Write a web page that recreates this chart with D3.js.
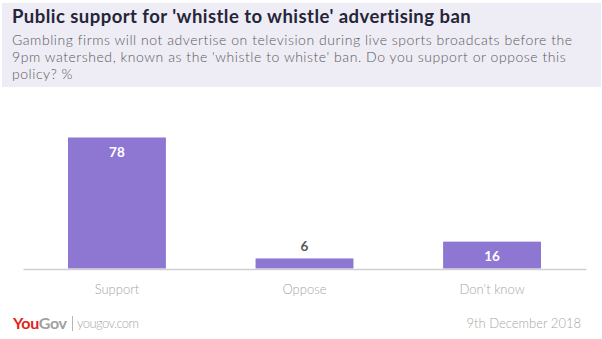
<!DOCTYPE html>
<html>
<head>
<meta charset="utf-8">
<script src="https://cdn.jsdelivr.net/npm/d3@7"></script>
<style>
  html, body { margin: 0; padding: 0; background: #ffffff; }
  svg { display: block; font-family: "Lato", "Open Sans", sans-serif; }
</style>
</head>
<body>
<svg id="chart" width="602" height="339"></svg>
<script>
// Survey answers and their shares (%)
const categories = ["Support", "Oppose", "Don't know"];
const values = [78, 6, 16];

const titleText = "Public support for 'whistle to whistle' advertising ban";
const subtitleLines = [
  "Gambling firms will not advertise on television during live sports broadcats before the",
  "9pm watershed, known as the 'whistle to whiste' ban. Do you support or oppose this",
  "policy? %"
];
const sourceText = "yougov.com";
const dateText = "9th December 2018";

const svg = d3.select("#chart");

// Header panel
svg.append("rect")
  .attr("x", 2).attr("y", 3)
  .attr("width", 599).attr("height", 84)
  .attr("fill", "#eeecf4");

// Stretch letter spacing so a line fills the given width
function fitWidth(sel, target) {
  const node = sel.node();
  const len = node.getComputedTextLength();
  const n = sel.text().length;
  const ls = (target - len) / Math.max(1, n - 1);
  sel.attr("letter-spacing", ls);
  return ls;
}

const title = svg.append("text")
  .attr("x", 12).attr("y", 23)
  .attr("font-size", 18.5).attr("font-weight", 700)
  .attr("fill", "#25253a")
  .text(titleText);
fitWidth(title, 459);

const subs = svg.append("g");
let spacing = 0;
subtitleLines.forEach((line, i) => {
  const t = subs.append("text")
    .attr("x", 12).attr("y", 45 + i * 17)
    .attr("font-size", 14)
    .attr("font-weight", 300)
    .attr("fill", "#5a5a5a")
    .text(line);
  if (i === 0) spacing = fitWidth(t, 560);
  else t.attr("letter-spacing", spacing);
});

// Bars
const x = d3.scaleBand()
  .domain(categories)
  .range([23, 586])
  .paddingInner(0.478)
  .paddingOuter(0.24);

const y = d3.scaleLinear()
  .domain([0, 78])
  .range([268.5, 137.5]);

svg.append("g").selectAll("rect")
  .data(categories)
  .join("rect")
  .attr("x", d => x(d))
  .attr("y", (d, i) => y(values[i]))
  .attr("width", x.bandwidth())
  .attr("height", (d, i) => y(0) - y(values[i]))
  .attr("fill", "#8e77d3");

// Baseline axis
const axis = svg.append("g")
  .attr("transform", `translate(0,${y(0) + 0.5})`)
  .call(d3.axisBottom(x).tickSize(0).tickPadding(16));
axis.select(".domain").attr("stroke", "#d0d0d0").attr("stroke-width", 1.6);
axis.selectAll(".tick text")
  .attr("font-family", "Lato, 'Open Sans', sans-serif")
  .attr("font-size", 13)
  .attr("font-weight", 300)
  .attr("fill", "#a6a6a6");

// Value labels: inside tall bars, above short ones
svg.append("g").selectAll("text")
  .data(categories)
  .join("text")
  .attr("x", d => x(d) + x.bandwidth() / 2)
  .attr("y", (d, i) => {
    const top = y(values[i]);
    const h = y(0) - top;
    return h > 20 ? top + 15 : top - 12.5;
  })
  .attr("dy", "0.35em")
  .attr("text-anchor", "middle")
  .attr("font-size", 13.5)
  .attr("font-weight", 700)
  .attr("fill", (d, i) => (y(0) - y(values[i]) > 20 ? "#ffffff" : "#555555"))
  .text((d, i) => values[i]);

// Footer
const logo = svg.append("text")
  .attr("x", 13).attr("y", 329)
  .attr("font-size", 16).attr("font-weight", 700)
  .attr("letter-spacing", -0.3);
logo.append("tspan").attr("fill", "#e2231a").text("You");
logo.append("tspan").attr("fill", "#a0a0a0").text("Gov");

svg.append("line")
  .attr("x1", 72.5).attr("x2", 72.5)
  .attr("y1", 316).attr("y2", 331)
  .attr("stroke", "#b5b5b5").attr("stroke-width", 1);

const src = svg.append("text")
  .attr("x", 77).attr("y", 328)
  .attr("font-size", 13)
  .attr("font-weight", 300)
  .attr("fill", "#a8a8a8")
  .text(sourceText);
fitWidth(src, 62);

svg.append("text")
  .attr("x", 581).attr("y", 328)
  .attr("text-anchor", "end")
  .attr("font-size", 13)
  .attr("font-weight", 300)
  .attr("fill", "#a8a8a8")
  .text(dateText);
</script>
</body>
</html>
